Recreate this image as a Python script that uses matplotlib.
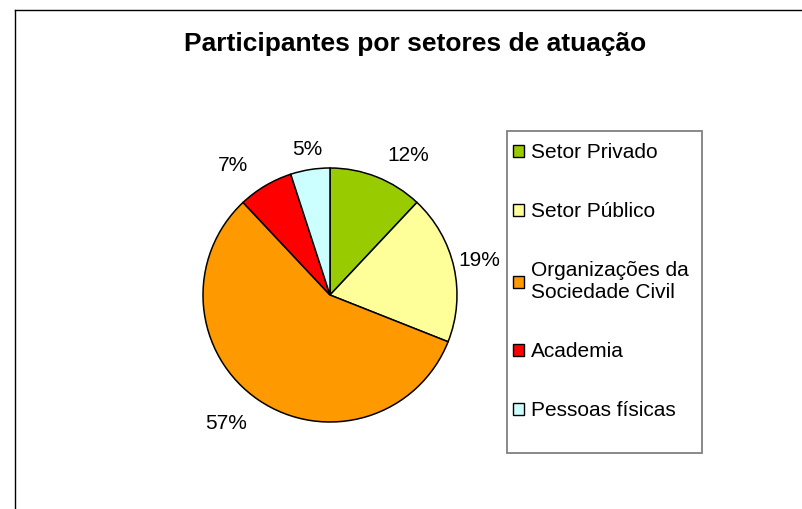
import matplotlib
matplotlib.use("Agg")
import numpy as np
import matplotlib.pyplot as plt
from matplotlib.patches import Patch, Rectangle
from matplotlib.lines import Line2D

TITLE = "Participantes por setores de atuação"
SECTORS = ["Setor Privado", "Setor Público", "Organizações da\nSociedade Civil",
           "Academia", "Pessoas físicas"]
SHARES = [12, 19, 57, 7, 5]
COLORS = ["#99CC00", "#FFFF99", "#FF9900", "#FF0000", "#CCFFFF"]

plt.rcParams['font.family'] = ['Liberation Sans', 'DejaVu Sans']

W, H = 802, 509
fig = plt.figure(figsize=(W / 100, H / 100), dpi=100)

# outer chart frame (only left and top edges visible in the crop)
fig.add_artist(Line2D([15 / W, 15 / W], [0, 1 - 10 / H], transform=fig.transFigure,
                      color="black", lw=1.0))
fig.add_artist(Line2D([15 / W, 1], [1 - 10 / H, 1 - 10 / H], transform=fig.transFigure,
                      color="black", lw=1.0))

fig.text(415 / W, 1 - 44 / H, TITLE, ha="center", va="center",
         fontsize=19, fontweight="bold")

# pie: centre (330, 295) px, radius 127 px
r = 127
ax = fig.add_axes([(330 - r) / W, (H - 295 - r) / H, 2 * r / W, 2 * r / H])
wedges, texts, autotexts = ax.pie(
    SHARES, colors=COLORS, startangle=90, counterclock=False,
    autopct="%1.0f%%", pctdistance=1.16,
    wedgeprops=dict(edgecolor="black", linewidth=1.1),
    textprops=dict(fontsize=15))
ax.set_xlim(-1, 1)
ax.set_ylim(-1, 1)

# push side labels outward horizontally, like the spreadsheet layout
for t in autotexts:
    x, y = t.get_position()
    if abs(x) > 0.3:
        s = abs(y) / np.hypot(x, y)
        dy = 0.05 if y < 0 else 0.02
        t.set_position((x + 0.2 * s * np.sign(x), y + dy * np.sign(y)))

# legend box
fig.add_artist(Rectangle((507 / W, 1 - 453 / H), (702 - 507) / W, (453 - 131) / H,
                         transform=fig.transFigure, facecolor="none",
                         edgecolor="#808080", linewidth=1.3))

handles = [Patch(facecolor=c, edgecolor="black", linewidth=1.0) for c in COLORS]
leg = fig.legend(handles, SECTORS, loc="upper left",
                 bbox_to_anchor=(507 / W, 1 - 137 / H), fontsize=15,
                 frameon=False, handlelength=0.53, handleheight=0.53,
                 handletextpad=0.3, labelspacing=1.92, borderpad=0.3,
                 borderaxespad=0)

fig.savefig("out.png", dpi=100)
